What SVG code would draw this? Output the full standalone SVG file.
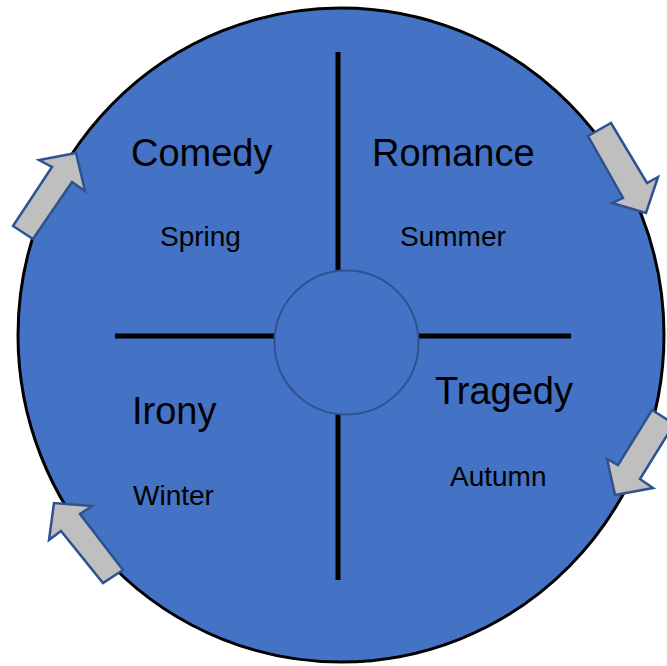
<svg xmlns="http://www.w3.org/2000/svg" width="667" height="666" viewBox="0 0 667 666">
<style>
.big{font-family:"Liberation Sans",Arial,sans-serif;font-size:38px;fill:#000}
.small{font-family:"Liberation Sans",Arial,sans-serif;font-size:28px;fill:#000}
.arrow{fill:#BFBFBF;stroke:#2F528F;stroke-width:2.5;stroke-linejoin:miter}
.div{stroke:#000;stroke-width:5}
</style>
<rect width="667" height="666" fill="#fff"/>
<g id="outer">
<ellipse cx="341" cy="335" rx="323" ry="327" fill="#4472C4" stroke="#000" stroke-width="3"/>
</g>
<g id="connectors">
<line class="div" x1="338" y1="52" x2="338" y2="271"/>
<line class="div" x1="338" y1="414" x2="338" y2="580"/>
<line class="div" x1="115" y1="336" x2="275" y2="336"/>
<line class="div" x1="418" y1="336" x2="571" y2="336"/>
</g>
<g id="center">
<circle cx="346.5" cy="342.5" r="72" fill="#4472C4" stroke="#2F528F" stroke-width="2"/>
</g>
<g id="comedy">
<text class="big" x="131" y="166">Comedy</text>
<text class="small" x="160" y="246">Spring</text>
</g>
<g id="romance">
<text class="big" x="372" y="166">Romance</text>
<text class="small" x="400" y="246">Summer</text>
</g>
<g id="tragedy">
<text class="big" x="435" y="404">Tragedy</text>
<text class="small" x="450" y="486">Autumn</text>
</g>
<g id="irony">
<text class="big" x="132" y="424">Irony</text>
<text class="small" x="133" y="505">Winter</text>
</g>
<g id="arrows">
<polygon id="arrow-tl" class="arrow" points="13,226 52,167 39,160 76,153 85,191 72,182 33,239"/>
<polygon id="arrow-tr" class="arrow" points="588,136 611,123 647,183 658,177 646,213 612,203 623,198"/>
<polygon id="arrow-br" class="arrow" points="652,410 674,424 640,479 653,488 615,495 607,459 618,465"/>
<polygon id="arrow-bl" class="arrow" points="123,570 103,583 61,531 49,540 54,503 92,506 80,514"/>
</g>
</svg>
